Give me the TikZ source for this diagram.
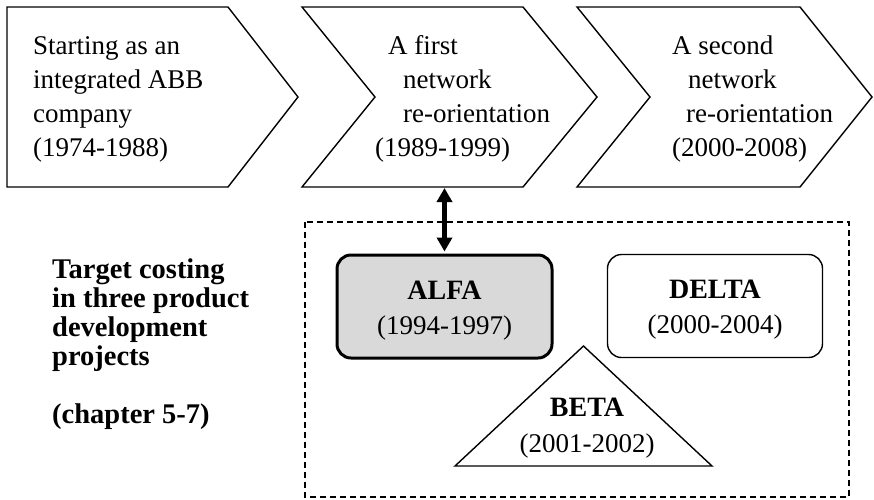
\documentclass[tikz,border=0pt]{standalone}
\usepackage{fontspec}
\setmainfont{Liberation Serif}
\usetikzlibrary{arrows.meta}
\begin{document}
\begin{tikzpicture}[x=1pt,y=-1pt,
  phase/.style={draw=black, line width=1.4pt, line join=miter},
  ln/.style={anchor=base west, inner sep=0pt, font=\fontsize{27}{34}\selectfont},
  side/.style={anchor=base west, inner sep=0pt, font=\fontsize{28.5}{29}\selectfont\bfseries},
  ptitle/.style={anchor=base, inner sep=0pt, font=\fontsize{28}{34}\selectfont\bfseries},
  pyears/.style={anchor=base, inner sep=0pt, font=\fontsize{27}{34}\selectfont},
  projbox/.style={draw=black, rounded corners=14pt, minimum width=215pt, minimum height=103pt, inner sep=0pt},
  link/.style={line width=4.5pt, {Triangle[width=15pt,length=14pt]}-{Triangle[width=15pt,length=14pt]}},
  frame/.style={draw=black, line width=1.3pt, dash pattern=on 6pt off 4pt}
]
\useasboundingbox (0,0) rectangle (874,499);

% three phases as chevrons
\draw[phase] (7,7) -- (228,7) -- (298,97) -- (228,187) -- (7,187) -- cycle;
\draw[phase] (302,7) -- (523,7) -- (597,97) -- (523,187) -- (302,187) -- (375,97) -- cycle;
\draw[phase] (577,7) -- (800,7) -- (872,97) -- (800,187) -- (577,187) -- (650,97) -- cycle;

% phase texts
\node[ln] (p1a) at (33,54) {Starting as an};
\node[ln] (p1b) at (33,88) {integrated ABB};
\node[ln] (p1c) at (33,122) {company};
\node[ln] (p1d) at (33,156) {(1974-1988)};

\node[ln] (p2a) at (388,54) {A first};
\node[ln] (p2b) at (403,88) {network};
\node[ln] (p2c) at (403,122) {re-orientation};
\node[ln] (p2d) at (375,156) {(1989-1999)};

\node[ln] (p3a) at (672,54) {A second};
\node[ln] (p3b) at (688,88) {network};
\node[ln] (p3c) at (686,122) {re-orientation};
\node[ln] (p3d) at (672,156) {(2000-2008)};

% project frame
\draw[frame] (305,222) rectangle (849,497);

% side heading
\node[side] (s1) at (52,278) {Target costing};
\node[side] (s2) at (52,307) {in three product};
\node[side] (s3) at (52,336) {development};
\node[side] (s4) at (52,365) {projects};
\node[side] (s5) at (52,423) {(chapter 5-7)};

% projects
\node[projbox, line width=3pt, fill=black!15] (alfa) at (444.5,306.5) {};
\node[ptitle] (alfat) at (444.5,299) {ALFA};
\node[pyears] (alfay) at (444.5,334) {(1994-1997)};

\node[projbox, line width=1.4pt] (delta) at (715,306) {};
\node[ptitle] (deltat) at (715,298) {DELTA};
\node[pyears] (deltay) at (715,333) {(2000-2004)};

\draw[phase] (455,466) -- (583.5,346) -- (712,466) -- cycle;
\node[ptitle] (betat) at (587,416) {BETA};
\node[pyears] (betay) at (587,452) {(2001-2002)};

% link between the first re-orientation and ALFA
\coordinate (hub) at (444.5,187);
\draw[link, shorten <=1pt, shorten >=2pt] (hub) -- (alfa.north);
\end{tikzpicture}
\end{document}
